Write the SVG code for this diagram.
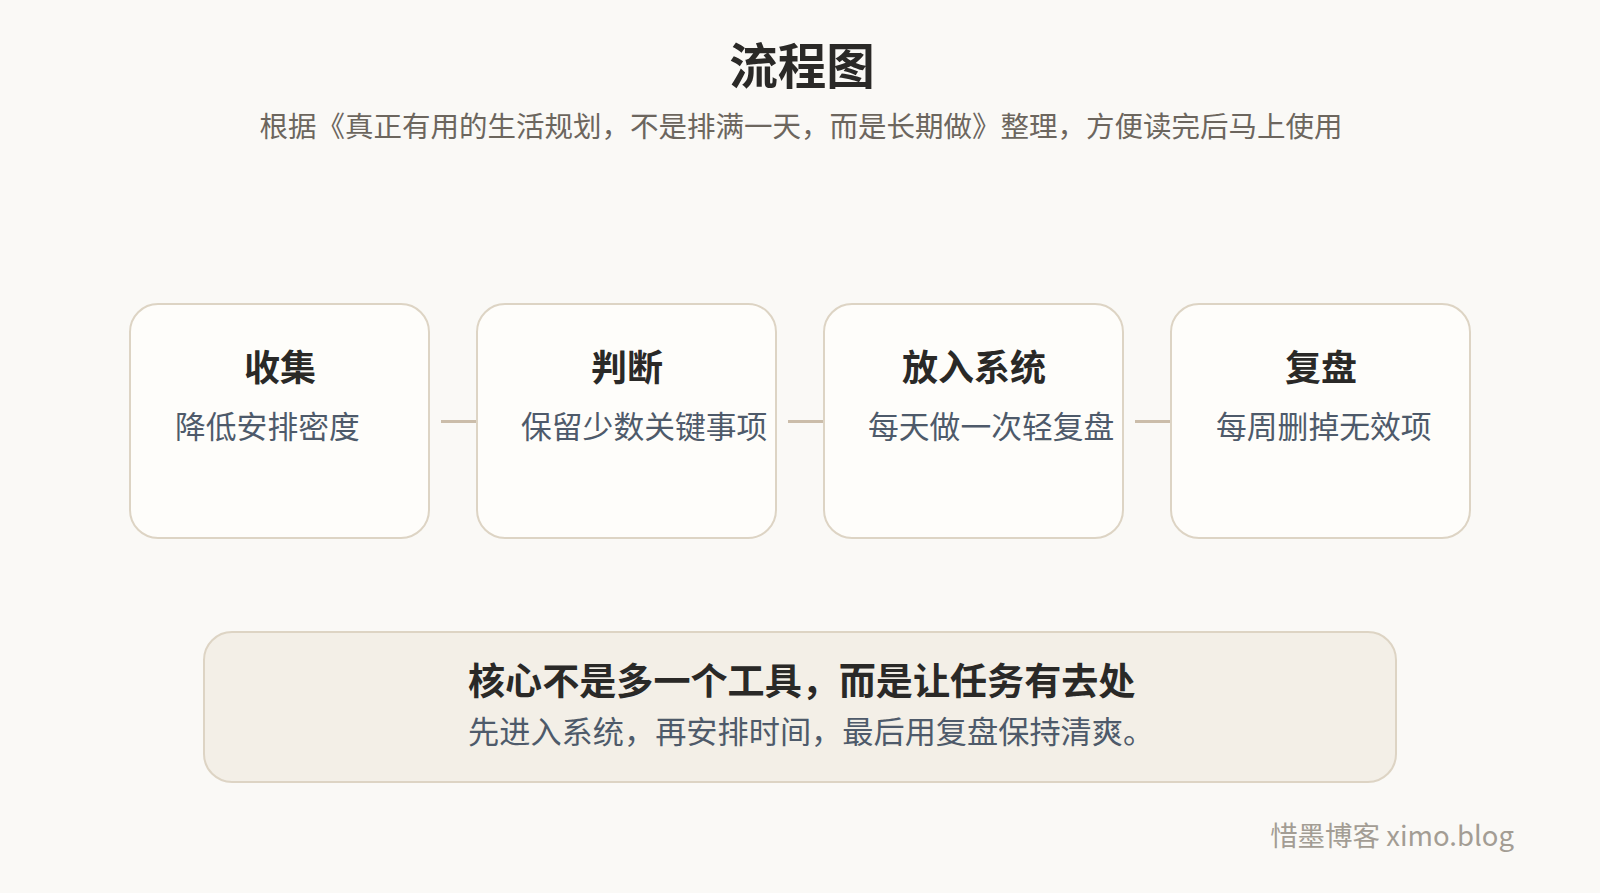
<svg xmlns="http://www.w3.org/2000/svg" width="1600" height="893" viewBox="0 0 1600 893">
<style>
text{font-family:"Noto Sans CJK SC","Noto Sans",sans-serif;}
.h1{font-size:48.5px;font-weight:700;fill:#2a2927;text-anchor:middle;}
.sub{font-size:28.5px;fill:#6c665e;text-anchor:middle;}
.box{fill:#fefdfa;stroke:#ddd4c4;stroke-width:2;}
.nt{font-size:36px;font-weight:700;fill:#2a2927;text-anchor:middle;}
.nd{font-size:30.8px;fill:#4e5a6a;}
.conn{stroke:#cbbdaa;stroke-width:3;fill:none;}
.note{fill:#f3efe7;stroke:#ddd4c4;stroke-width:2;}
.nh{font-size:37.1px;font-weight:700;fill:#2a2927;}
.ns{font-size:31.2px;fill:#4e5a6a;}
.wm{font-size:27.5px;fill:#a39d94;text-anchor:end;}
</style>
<rect x="0" y="0" width="1600" height="893" fill="#faf9f6"/>
<g id="title">
<text class="h1" x="802" y="84">流程图</text>
<text class="sub" x="801" y="137">根据《真正有用的生活规划，不是排满一天，而是长期做》整理，方便读完后马上使用</text>
</g>
<g id="connectors">
<line class="conn" x1="441" y1="421.5" x2="477" y2="421.5"/>
<line class="conn" x1="788" y1="421.5" x2="824" y2="421.5"/>
<line class="conn" x1="1135" y1="421.5" x2="1171" y2="421.5"/>
</g>
<g id="node-1">
<rect class="box" x="130" y="304" width="299" height="234" rx="28"/>
<text class="nt" x="280" y="381">收集</text>
<text class="nd" x="175" y="437.5">降低安排密度</text>
</g>
<g id="node-2">
<rect class="box" x="477" y="304" width="299" height="234" rx="28"/>
<text class="nt" x="627" y="381">判断</text>
<text class="nd" x="521" y="437.5">保留少数关键事项</text>
</g>
<g id="node-3">
<rect class="box" x="824" y="304" width="299" height="234" rx="28"/>
<text class="nt" x="974" y="381">放入系统</text>
<text class="nd" x="868" y="437.5">每天做一次轻复盘</text>
</g>
<g id="node-4">
<rect class="box" x="1171" y="304" width="299" height="234" rx="28"/>
<text class="nt" x="1321" y="381">复盘</text>
<text class="nd" x="1216" y="437.5">每周删掉无效项</text>
</g>
<g id="summary">
<rect class="note" x="204" y="632" width="1192" height="150" rx="28"/>
<text class="nh" x="468" y="694.5">核心不是多一个工具，而是让任务有去处</text>
<text class="ns" x="468" y="743">先进入系统，再安排时间，最后用复盘保持清爽。</text>
</g>
<g id="watermark">
<text class="wm" x="1514" y="846">惜墨博客 ximo.blog</text>
</g>
</svg>
